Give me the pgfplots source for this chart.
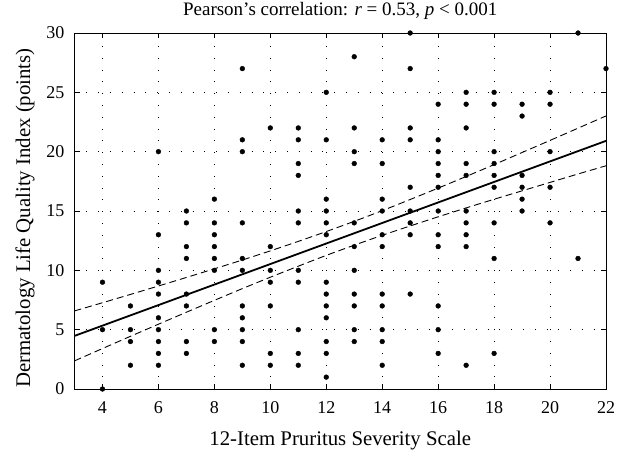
\documentclass[border=0pt]{standalone}
\usepackage{fontspec}
\setmainfont{Liberation Serif}
\usepackage{pgfplots}
\pgfplotsset{compat=1.18}
\begin{document}
\begin{tikzpicture}[x=1pt,y=1pt]
\useasboundingbox (0,0) rectangle (624,451);
\begin{axis}[
  at={(74.5pt,62pt)}, anchor=south west,
  scale only axis, width=531.5pt, height=356pt,
  xmin=3, xmax=22, ymin=0, ymax=30,
  xtick={4,6,...,22}, ytick={0,5,...,30},
  xtick pos=both, ytick pos=both,
  tick align=inside, major tick length=5pt,
  grid=major,
  major grid style={black, line width=0.6pt, dash pattern=on 0.8pt off 11pt},
  axis line style={line width=1pt},
  tick style={black, line width=0.8pt},
  /pgf/number format/assume math mode=true,
  ticklabel style={font=\fontsize{18}{20}\selectfont},
  xticklabel style={anchor=base, inner sep=0pt, yshift=-24pt},
  yticklabel style={anchor=east, inner sep=0pt, xshift=-10pt},
  xlabel={12-Item Pruritus Severity Scale},
  ylabel={Dermatology Life Quality Index (points)},
  label style={font=\fontsize{20.8}{24}\selectfont},
  xlabel style={at={(axis description cs:0.5,0)}, anchor=base, inner sep=0pt, yshift=-56pt},
  ylabel style={at={(axis description cs:0,0.48)}, anchor=base, inner sep=0pt, yshift=44.5pt},
  title={Pearson's correlation: \textit{r} = 0.53, \textit{p} < 0.001},
  title style={font=\fontsize{19}{22}\selectfont, at={(axis description cs:0.5,1)}, anchor=base, inner sep=0pt, yshift=12pt},
]
\addplot[only marks, mark=*, mark size=2.4pt, black] table {
x y
4 9
4 5
4 0
5 7
5 5
5 4
5 2
6 20
6 13
6 10
6 9
6 8
6 6
6 5
6 4
6 3
6 2
7 15
7 14
7 12
7 11
7 8
7 7
7 4
7 3
8 16
8 14
8 13
8 12
8 11
8 10
8 5
8 4
9 27
9 21
9 20
9 14
9 11
9 10
9 7
9 6
9 5
9 4
9 2
10 22
10 12
10 10
10 9
10 7
10 3
10 2
11 22
11 21
11 19
11 18
11 15
11 14
11 10
11 9
11 5
11 3
11 2
12 25
12 21
12 16
12 15
12 14
12 13
12 9
12 8
12 7
12 6
12 4
12 3
12 1
13 28
13 22
13 20
13 19
13 14
13 12
13 10
13 8
13 7
13 5
13 4
14 21
14 19
14 16
14 15
14 13
14 12
14 8
14 7
14 5
14 4
14 2
15 30
15 27
15 22
15 21
15 17
15 15
15 14
15 13
15 8
16 24
16 21
16 20
16 19
16 18
16 17
16 15
16 13
16 12
16 7
16 5
16 3
17 25
17 24
17 22
17 19
17 18
17 15
17 14
17 13
17 12
17 2
18 25
18 24
18 20
18 19
18 18
18 17
18 14
18 11
18 3
19 24
19 23
19 18
19 17
19 16
19 15
20 25
20 24
20 20
20 17
20 14
21 30
21 11
22 27
};
\addplot[black, line width=1.8pt] coordinates {(3,4.475) (22,20.91)};
\addplot[black, line width=0.9pt, dash pattern=on 7pt off 4pt, smooth] coordinates {
(3,6.58) (4,7.27) (5,7.97) (6,8.68) (7,9.40) (8,10.13) (9,10.87) (10,11.64) (11,12.44) (12,13.27) (13,14.13) (14,15.03) (15,15.97) (16,16.93) (17,17.91) (18,18.91) (19,19.93) (20,20.95) (21,21.98) (22,23.01)};
\addplot[black, line width=0.9pt, dash pattern=on 7pt off 4pt, smooth] coordinates {
(3,2.37) (4,3.41) (5,4.44) (6,5.46) (7,6.47) (8,7.47) (9,8.46) (10,9.42) (11,10.35) (12,11.26) (13,12.12) (14,12.95) (15,13.74) (16,14.51) (17,15.26) (18,15.99) (19,16.70) (20,17.41) (21,18.12) (22,18.81)};
\end{axis}
\end{tikzpicture}
\end{document}
